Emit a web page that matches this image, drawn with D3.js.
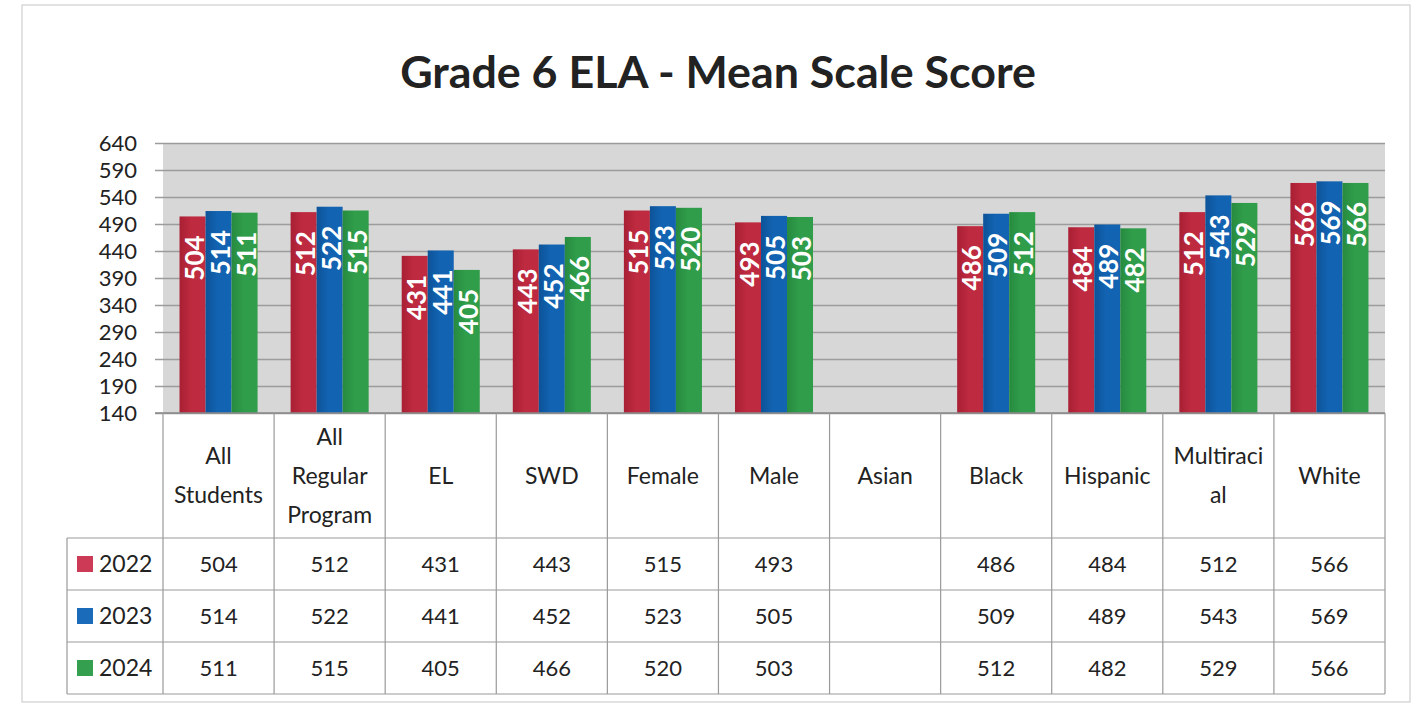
<!DOCTYPE html>
<html>
<head>
<meta charset="utf-8">
<script src="https://cdn.jsdelivr.net/npm/d3@7"></script>
<style>
  html, body { margin: 0; padding: 0; background: #ffffff; }
  svg { display: block; font-family: Lato, "Open Sans", "DejaVu Sans", sans-serif; }
</style>
</head>
<body>
<svg id="chart" width="1422" height="714"></svg>
<script>
// ---- data ----
const title = "Grade 6 ELA - Mean Scale Score";
const categories = ["All Students", "All Regular Program", "EL", "SWD", "Female", "Male", "Asian", "Black", "Hispanic", "Multiracial", "White"];
const categoryLines = [["All", "Students"], ["All", "Regular", "Program"], ["EL"], ["SWD"], ["Female"], ["Male"], ["Asian"], ["Black"], ["Hispanic"], ["Multiraci", "al"], ["White"]];
const years = ["2022", "2023", "2024"];
const values2022 = [504, 512, 431, 443, 515, 493, null, 486, 484, 512, 566];
const values2023 = [514, 522, 441, 452, 523, 505, null, 509, 489, 543, 569];
const values2024 = [511, 515, 405, 466, 520, 503, null, 512, 482, 529, 566];
const yTicks = [140, 190, 240, 290, 340, 390, 440, 490, 540, 590, 640];
const seriesValues = [values2022, values2023, values2024];
const colors = ["#be2a40", "#1263b2", "#2f9d4a"];
const colorsDark = ["#a81f33", "#0d5398", "#278a3f"];
const legendColors = ["#cc3a55", "#1a6cba", "#34a04f"];

// ---- layout ----
const svg = d3.select("#chart");
const plotL = 163, plotR = 1385, plotT = 143, plotB = 413;
const tableL = 67;
const headerB = 538, rowH = 52;

svg.append("rect").attr("x", 22).attr("y", 5).attr("width", 1388).attr("height", 697)
  .attr("fill", "#fff").attr("stroke", "#cfcfcf").attr("stroke-width", 1.2);

// gradients
const defs = svg.append("defs");
years.forEach((yr, i) => {
  const g = defs.append("linearGradient").attr("id", "g" + i).attr("x1", 0).attr("x2", 1).attr("y1", 0).attr("y2", 0);
  g.append("stop").attr("offset", "0%").attr("stop-color", colorsDark[i]);
  g.append("stop").attr("offset", "45%").attr("stop-color", colors[i]);
  g.append("stop").attr("offset", "100%").attr("stop-color", colors[i]);
});

// title
const t = svg.append("text").attr("x", 718).attr("y", 88).attr("text-anchor", "middle")
  .attr("font-weight", "bold").attr("fill", "#222").attr("font-size", 40).text(title);
const tw = t.node().getComputedTextLength();
t.attr("font-size", 40 * 636 / tw);

// scales
const x = d3.scaleBand().domain(categories).range([plotL, plotR]).padding(0);
const xs = d3.scaleBand().domain(years).range([0, x.bandwidth()]).paddingInner(0).paddingOuter(0.635);
const y = d3.scaleLinear().domain([140, 640]).range([plotB, plotT]);

// plot background
svg.append("rect").attr("x", plotL).attr("y", plotT).attr("width", plotR - plotL).attr("height", plotB - plotT)
  .attr("fill", "#d7d7d7");

// y axis with gridlines
const yAxis = d3.axisLeft(y).tickValues(yTicks).tickSize(-(plotR - plotL + 8)).tickPadding(18).tickFormat(d3.format("d"));
const ga = svg.append("g").attr("transform", `translate(${plotR},0)`);
ga.call(yAxis);
ga.select(".domain").remove();
ga.selectAll(".tick line").attr("stroke", "#9c9c9c").attr("stroke-width", 1.5).attr("x1", 0).attr("x2", -(plotR - 155));
ga.selectAll(".tick text").attr("x", -(plotR - 137)).attr("text-anchor", "end")
  .attr("font-size", 22).attr("fill", "#222").attr("font-family", "Lato, sans-serif");

// bars
const barData = [];
categories.forEach((c, ci) => {
  years.forEach((yr, si) => {
    const v = seriesValues[si][ci];
    if (v != null) barData.push({ c, yr, si, v });
  });
});
const bars = svg.append("g");
bars.selectAll("rect").data(barData).join("rect")
  .attr("x", d => x(d.c) + xs(d.yr))
  .attr("y", d => y(d.v))
  .attr("width", xs.bandwidth())
  .attr("height", d => y(140) - y(d.v))
  .attr("fill", d => `url(#g${d.si})`);

bars.selectAll("text").data(barData).join("text")
  .attr("transform", d => `translate(${x(d.c) + xs(d.yr) + xs.bandwidth() / 2 + 1},${y(d.v) + 19}) rotate(-90)`)
  .attr("text-anchor", "end").attr("dominant-baseline", "central")
  .attr("font-size", 26).attr("font-weight", "bold").attr("fill", "#fff")
  .text(d => d.v);

// data table
const tb = svg.append("g").attr("stroke", "#9a9a9a").attr("stroke-width", 1.2);
const tableB = headerB + rowH * years.length;
// baseline
tb.append("line").attr("x1", 155).attr("x2", plotR).attr("y1", plotB).attr("y2", plotB).attr("stroke", "#8a8a8a").attr("stroke-width", 1.5);
// horizontal lines
[0, 1, 2, 3].forEach(i => {
  tb.append("line").attr("x1", tableL).attr("x2", plotR)
    .attr("y1", headerB + i * rowH).attr("y2", headerB + i * rowH);
});
// vertical lines
categories.forEach(c => {
  tb.append("line").attr("x1", x(c)).attr("x2", x(c)).attr("y1", plotB).attr("y2", tableB);
});
tb.append("line").attr("x1", plotR).attr("x2", plotR).attr("y1", plotB).attr("y2", tableB);
tb.append("line").attr("x1", tableL).attr("x2", tableL).attr("y1", headerB).attr("y2", tableB);

// header labels
const headerMid = (plotB + headerB) / 2;
const lh = 39;
categories.forEach((c, ci) => {
  const lines = categoryLines[ci];
  const txt = svg.append("text").attr("text-anchor", "middle").attr("font-size", 23).attr("fill", "#222");
  lines.forEach((ln, li) => {
    txt.append("tspan").attr("x", x(c) + x.bandwidth() / 2)
      .attr("y", headerMid + (li - (lines.length - 1) / 2) * lh + 8)
      .text(ln);
  });
});

// rows
years.forEach((yr, si) => {
  const cy = headerB + si * rowH + rowH / 2;
  svg.append("rect").attr("x", 77).attr("y", cy - 8).attr("width", 16).attr("height", 16).attr("fill", legendColors[si]);
  svg.append("text").attr("x", 99).attr("y", cy + 8).attr("font-size", 23).attr("fill", "#222").text(yr);
  categories.forEach((c, ci) => {
    const v = seriesValues[si][ci];
    if (v == null) return;
    svg.append("text").attr("x", x(c) + x.bandwidth() / 2).attr("y", cy + 8)
      .attr("text-anchor", "middle").attr("font-size", 22).attr("fill", "#222").text(v);
  });
});
</script>
</body>
</html>
